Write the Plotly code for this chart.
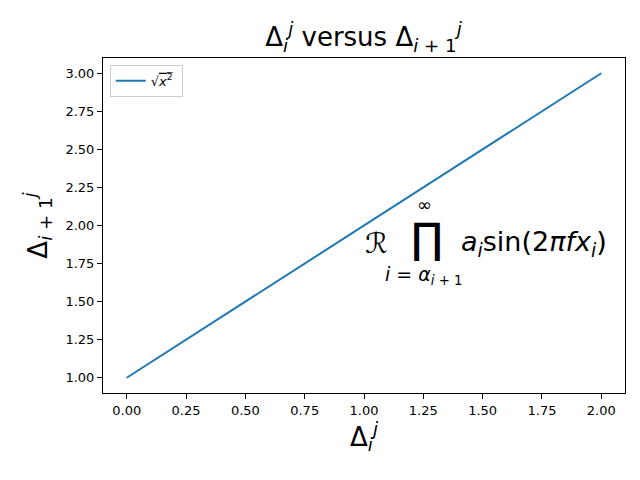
import plotly.graph_objects as go

x_vals = [0, 1, 2]
y_vals = [1, 2, 3]
legend_label = "√<span style='text-decoration:overline'><i>x</i><sup>2</sup></span> "
title_text = "Δ<sub><i>i</i></sub><sup><i>j</i></sup> versus Δ<sub><i>i</i> + 1</sub><sup><i>j</i></sup>"
xlabel_text = "Δ<sub><i>i</i></sub><sup><i>j</i></sup>"
ylabel_text = "Δ<sub><i>i</i> + 1</sub><sup><i>j</i></sup>"

FONT = "DejaVu Sans"

fig = go.Figure()
fig.add_trace(go.Scatter(x=x_vals, y=y_vals, mode="lines", name=legend_label,
                         line=dict(color="#1f77b4", width=2)))

fig.update_layout(
    width=640, height=480,
    paper_bgcolor="white", plot_bgcolor="white",
    margin=dict(l=103, r=15, t=58, b=87, autoexpand=False),
    font=dict(family=FONT, color="black", size=13),
    title=dict(text=title_text, x=0.568, xanchor="center", y=0.923, yanchor="middle",
               font=dict(size=26, family=FONT), automargin=False),
    showlegend=True,
    legend=dict(x=0.013, y=0.98, xanchor="left", yanchor="top",
                bordercolor="#cccccc", borderwidth=1, bgcolor="rgba(255,255,255,0.8)",
                font=dict(size=13, family=FONT)),
)

axis_common = dict(showline=True, linecolor="black", linewidth=1, mirror=True,
                   ticks="outside", ticklen=5, tickcolor="black", showgrid=False,
                   zeroline=False, tickfont=dict(size=13, family=FONT), dtick=0.25,
                   tickformat=".2f", automargin=False)
fig.update_xaxes(range=[-0.1, 2.1], title=dict(text=xlabel_text, font=dict(size=26), standoff=8),
                 **axis_common)
fig.update_yaxes(range=[0.9, 3.1], title=dict(text=ylabel_text, font=dict(size=26), standoff=10),
                 **axis_common)

def ann(text, x, y, size, xanchor="center"):
    fig.add_annotation(text=text, x=x, y=y, xref="x", yref="y", showarrow=False,
                       xanchor=xanchor, yanchor="middle", font=dict(size=size, family=FONT))

ann("ℛ", 1.05, 1.885, 28)
ann("∏", 1.266, 1.915, 42)
ann("∞", 1.257, 2.135, 18)
ann("<i>i</i> = <i>α</i><sub><i>i</i> + 1</sub>", 1.253, 1.67, 19)
ann("<i>a</i><sub><i>i</i></sub>sin(2<i>πfx</i><sub><i>i</i></sub>)", 1.40, 1.885, 27, xanchor="left")

fig.write_html("out.html", config={"displayModeBar": False},
               post_script="document.body.style.margin='0';")
